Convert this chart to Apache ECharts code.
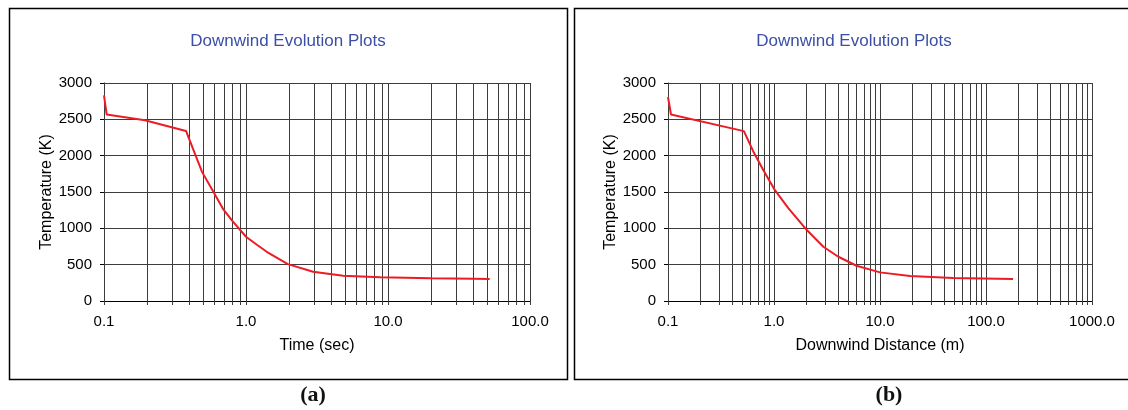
<!DOCTYPE html>
<html>
<head>
<meta charset="utf-8">
<title>Downwind Evolution Plots</title>
<script src="https://cdn.jsdelivr.net/npm/echarts@6/dist/echarts.min.js"></script>
<style>
  html, body { margin: 0; padding: 0; background: #fff; }
  #chart { width: 1128px; height: 410px; }
</style>
</head>
<body>
<div id="chart"></div>
<script>
// Panel (a): temperature against time
const timeSec = [0.1, 0.1045, 0.194, 0.378, 0.49, 0.589, 0.693, 0.793, 1.0, 1.2, 1.40, 1.97, 2.97, 4.83, 8.84, 20, 40, 52];
const tempVsTime = [2831, 2566, 2487, 2340, 1777, 1502, 1260, 1113, 884, 770, 677, 508, 403, 348, 326, 312, 305, 302];

// Panel (b): temperature against downwind distance
const distM = [0.1, 0.1067, 0.52, 0.636, 0.794, 1.02, 1.37, 1.7, 2.04, 2.92, 4.05, 6.0, 10, 19.2, 49, 180];
const tempVsDist = [2807, 2566, 2338, 2062, 1800, 1525, 1274, 1113, 976, 746, 609, 485, 394, 344, 316, 302];

// Axis ranges and tick values
const tempTicks = [0, 500, 1000, 1500, 2000, 2500, 3000];
const timeDecades = [0.1, 1, 10, 100];
const distDecades = [0.1, 1, 10, 100, 1000];
const minorSteps = [1, 2, 3, 4, 5, 6, 7, 8, 9];

const T_MIN = tempTicks[0];
const T_MAX = tempTicks[tempTicks.length - 1];

// vertical log grid positions: 1..9 within each decade, plus the last decade
function logGridValues(decades) {
  const out = [];
  for (let i = 0; i < decades.length - 1; i++) {
    minorSteps.forEach(m => out.push([+(decades[i] * m).toPrecision(6), T_MIN]));
  }
  out.push([decades[decades.length - 1], T_MIN]);
  return out;
}

const FONT = "'Liberation Sans', Arial, sans-serif";
const GRID_COLOR = '#3c3c3c';
const CURVE_COLOR = '#ec1c24';

function fmtTick(v) { return Number(v).toFixed(1); }

function gridLineItem(params, api) {
  const v = api.value(0);
  const top = api.coord([v, T_MAX]);
  const bot = api.coord([v, T_MIN]);
  const x = Math.round(top[0]) + 0.5;
  return {
    type: 'line',
    silent: true,
    shape: { x1: x, y1: top[1], x2: x, y2: bot[1] + 4 },
    style: { stroke: GRID_COLOR, lineWidth: 1 }
  };
}

function xAxisCfg(idx, name, maxVal) {
  return {
    gridIndex: idx,
    type: 'log',
    logBase: 10,
    min: 0.1,
    max: maxVal,
    name: name,
    nameLocation: 'middle',
    nameGap: 37,
    nameTextStyle: { fontFamily: FONT, fontSize: 16, color: '#000' },
    axisLine: { show: true, lineStyle: { color: '#000', width: 1 } },
    axisTick: { show: false },
    splitLine: { show: false },
    minorTick: { show: false },
    axisLabel: {
      formatter: fmtTick,
      fontFamily: FONT, fontSize: 15, color: '#000', margin: 13,
      showMinLabel: true, showMaxLabel: true
    }
  };
}

function yAxisCfg(idx) {
  return {
    gridIndex: idx,
    type: 'value',
    min: T_MIN,
    max: T_MAX,
    interval: 500,
    name: 'Temperature (K)',
    nameLocation: 'middle',
    nameGap: 48,
    nameTextStyle: { fontFamily: FONT, fontSize: 16, color: '#000' },
    axisLine: { show: true, lineStyle: { color: '#000', width: 1 } },
    axisTick: { show: true, length: 4, lineStyle: { color: '#000' } },
    splitLine: { show: true, lineStyle: { color: GRID_COLOR, width: 1 } },
    axisLabel: {
      formatter: v => String(v),
      fontFamily: FONT, fontSize: 15, color: '#000', margin: 12
    }
  };
}

const chart = echarts.init(document.getElementById('chart'), null, { renderer: 'canvas' });

chart.setOption({
  animation: false,
  backgroundColor: '#fff',
  title: [
    {
      text: 'Downwind Evolution Plots', left: 288, top: 33, textAlign: 'center', padding: 0,
      textStyle: { fontFamily: FONT, fontSize: 17, fontWeight: 'normal', color: '#3b4fa6' }
    },
    {
      text: 'Downwind Evolution Plots', left: 854, top: 33, textAlign: 'center', padding: 0,
      textStyle: { fontFamily: FONT, fontSize: 17, fontWeight: 'normal', color: '#3b4fa6' }
    }
  ],
  grid: [
    { left: 104, top: 83, width: 426, height: 218, outerBoundsMode: 'none', containLabel: false },
    { left: 668, top: 83, width: 424, height: 218, outerBoundsMode: 'none', containLabel: false }
  ],
  xAxis: [
    xAxisCfg(0, 'Time (sec)', 100),
    xAxisCfg(1, 'Downwind Distance (m)', 1000)
  ],
  yAxis: [yAxisCfg(0), yAxisCfg(1)],
  graphic: [
    { type: 'rect', z: -10, silent: true, shape: { x: 9.5, y: 8.5, width: 558, height: 371 },
      style: { fill: 'none', stroke: '#000', lineWidth: 1.5 } },
    { type: 'rect', z: -10, silent: true, shape: { x: 574.5, y: 8.5, width: 570, height: 371 },
      style: { fill: 'none', stroke: '#000', lineWidth: 1.5 } },
    { type: 'text', silent: true, x: 313, y: 395,
      style: { text: '(a)', fontFamily: "'Liberation Serif', 'Times New Roman', serif", fontSize: 22,
               fontWeight: 'bold', fill: '#111', align: 'center', verticalAlign: 'middle' } },
    { type: 'text', silent: true, x: 889, y: 395,
      style: { text: '(b)', fontFamily: "'Liberation Serif', 'Times New Roman', serif", fontSize: 22,
               fontWeight: 'bold', fill: '#111', align: 'center', verticalAlign: 'middle' } }
  ],
  series: [
    {
      type: 'custom', xAxisIndex: 0, yAxisIndex: 0, z: 1, silent: true, clip: false,
      encode: { x: 0, y: 1 },
      data: logGridValues(timeDecades),
      renderItem: gridLineItem
    },
    {
      type: 'custom', xAxisIndex: 1, yAxisIndex: 1, z: 1, silent: true, clip: false,
      encode: { x: 0, y: 1 },
      data: logGridValues(distDecades),
      renderItem: gridLineItem
    },
    {
      type: 'line', xAxisIndex: 0, yAxisIndex: 0, z: 5,
      showSymbol: false, symbol: 'none', smooth: false,
      lineStyle: { color: CURVE_COLOR, width: 2 },
      data: timeSec.map((t, i) => [t, tempVsTime[i]])
    },
    {
      type: 'line', xAxisIndex: 1, yAxisIndex: 1, z: 5,
      showSymbol: false, symbol: 'none', smooth: false,
      lineStyle: { color: CURVE_COLOR, width: 2 },
      data: distM.map((d, i) => [d, tempVsDist[i]])
    }
  ]
});
</script>
</body>
</html>
